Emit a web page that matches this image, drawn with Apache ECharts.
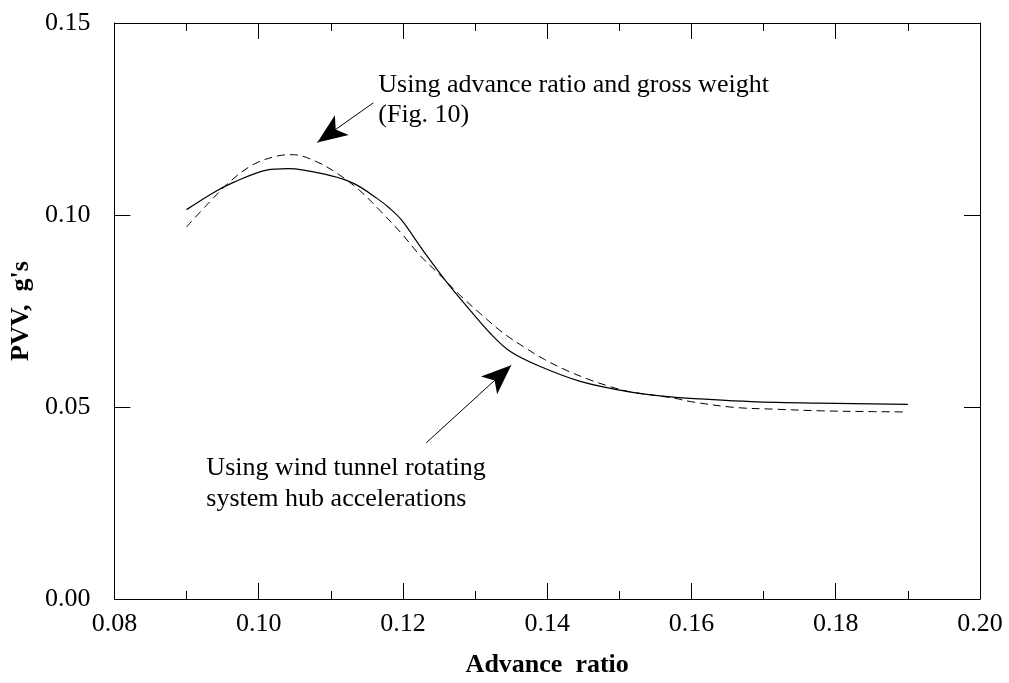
<!DOCTYPE html>
<html>
<head>
<meta charset="utf-8">
<script src="https://cdn.jsdelivr.net/npm/echarts@6/dist/echarts.min.js"></script>
<style>
  html, body { margin: 0; padding: 0; background: #fff; }
  #chart { width: 1009px; height: 683px; }
</style>
</head>
<body>
<div id="chart"></div>
<script>
// ---- data ----
const solidX = [0.0900, 0.0939, 0.0965, 0.1011, 0.1041, 0.1101, 0.1133, 0.1165, 0.1182, 0.1198, 0.1230, 0.1262, 0.1290, 0.1322, 0.1350, 0.1392, 0.1447, 0.1512, 0.1567, 0.1613, 0.1683, 0.1775, 0.1900];
const solidY = [0.1014, 0.1060, 0.1085, 0.1117, 0.1121, 0.1102, 0.1081, 0.1042, 0.1017, 0.0987, 0.0902, 0.0822, 0.0759, 0.0690, 0.0643, 0.0604, 0.0566, 0.0540, 0.0527, 0.0521, 0.0514, 0.0510, 0.0507];

const dashX = [0.0900, 0.0930, 0.0962, 0.0994, 0.1027, 0.1048, 0.1080, 0.1110, 0.1140, 0.1168, 0.1198, 0.1223, 0.1250, 0.1278, 0.1308, 0.1338, 0.1368, 0.1396, 0.1426, 0.1456, 0.1484, 0.1514, 0.1576, 0.1599, 0.1659, 0.1720, 0.1780, 0.1849, 0.1900];
const dashY = [0.0969, 0.1030, 0.1090, 0.1133, 0.1154, 0.1157, 0.1139, 0.1107, 0.1064, 0.1012, 0.0952, 0.0896, 0.0846, 0.0793, 0.0742, 0.0694, 0.0656, 0.0624, 0.0596, 0.0573, 0.0555, 0.0540, 0.0523, 0.0514, 0.0499, 0.0494, 0.0490, 0.0488, 0.0487];

const xTicks = { min: 0.08, max: 0.20, interval: 0.02 };
const yTicks = { min: 0.00, max: 0.15, interval: 0.05 };

const xName = 'Advance  ratio';
const yName = 'PVV,  g\'s';

const noteTop = ['Using advance ratio and gross weight', '(Fig. 10)'];
const noteBottom = ['Using wind tunnel rotating', 'system hub accelerations'];

// annotation anchors in data space
const arrowTop = [[0.11589, 0.1292], [0.10813, 0.1189]];
const arrowBottom = [[0.12323, 0.04067], [0.13501, 0.06087]];
const noteTopAt = [0.11658, 0.13774];
const noteBottomAt = [0.09275, 0.03814];

// ---- chart ----
const FONT = '"Liberation Serif", "DejaVu Serif", serif';
const zip = (xs, ys) => xs.map((x, i) => [x, ys[i]]);

const chart = echarts.init(document.getElementById('chart'), null, { renderer: 'canvas' });

const axisLine = { show: true, onZero: false, lineStyle: { color: '#000', width: 1 } };
const tick = { show: true, inside: true, length: 16, lineStyle: { color: '#000', width: 1 } };
const minorX = { show: true, splitNumber: 2, length: 8, lineStyle: { color: '#000', width: 1 } };

function xAx(pos, labels) {
  return {
    type: 'value', position: pos, min: xTicks.min, max: xTicks.max, interval: xTicks.interval,
    axisLine: axisLine, axisTick: tick, minorTick: minorX,
    splitLine: { show: false }, minorSplitLine: { show: false },
    axisLabel: {
      show: labels, margin: 12, color: '#000', fontFamily: FONT, fontSize: 26,
      formatter: v => v.toFixed(2)
    },
    name: labels ? xName : '', nameLocation: 'middle', nameGap: 53,
    nameTextStyle: { color: '#000', fontFamily: FONT, fontSize: 26, fontWeight: 'bold' }
  };
}
function yAx(pos, labels) {
  return {
    type: 'value', position: pos, min: yTicks.min, max: yTicks.max, interval: yTicks.interval,
    axisLine: axisLine, axisTick: tick,
    splitLine: { show: false },
    axisLabel: {
      show: labels, margin: 24, color: '#000', fontFamily: FONT, fontSize: 26,
      formatter: v => v.toFixed(2)
    },
    name: labels ? yName : '', nameLocation: 'middle', nameGap: 62, nameRotate: 90,
    nameTextStyle: { color: '#000', fontFamily: FONT, fontSize: 26, fontWeight: 'bold' }
  };
}

const arrowLine = (pts) => [
  { coord: pts[0], symbol: 'none' },
  { coord: pts[1], symbol: 'arrow', symbolSize: [18, 30] }
];

chart.setOption({
  animation: false,
  backgroundColor: '#fff',
  grid: { left: 113, right: 29, top: 23, bottom: 79, containLabel: false },
  xAxis: [xAx('bottom', true), xAx('top', false)],
  yAxis: [yAx('left', true), yAx('right', false)],
  series: [
    {
      type: 'line', name: 'wind tunnel', data: zip(solidX, solidY),
      showSymbol: false, symbol: 'none', smooth: 0.35,
      lineStyle: { color: '#000', width: 1.2 },
      markLine: {
        silent: true, animation: false, label: { show: false },
        lineStyle: { color: '#000', width: 1, type: 'solid' },
        data: [arrowLine(arrowTop), arrowLine(arrowBottom)]
      }
    },
    {
      type: 'line', name: 'advance ratio', data: zip(dashX, dashY),
      showSymbol: false, symbol: 'none', smooth: 0.35,
      lineStyle: { color: '#000', width: 1, type: [8, 5] }
    }
  ]
});

function noteText(at, lines, lh) {
  const p = chart.convertToPixel({ xAxisIndex: 0, yAxisIndex: 0 }, at);
  return {
    type: 'text', x: p[0], y: p[1], silent: true,
    style: {
      text: lines.join('\n'), fill: '#000', fontFamily: FONT, fontSize: 26,
      lineHeight: lh, align: 'left', verticalAlign: 'top'
    }
  };
}

chart.setOption({
  graphic: [noteText(noteTopAt, noteTop, 30), noteText(noteBottomAt, noteBottom, 31)]
});
</script>
</body>
</html>
